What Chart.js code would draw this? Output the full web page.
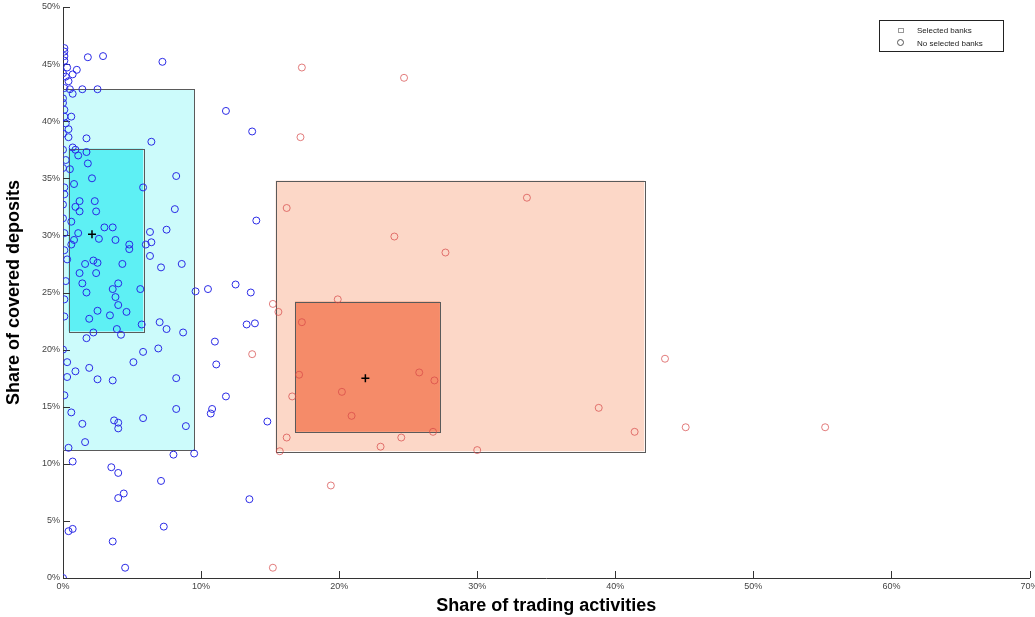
<!DOCTYPE html>
<html lang="en">
  <head>
    <meta charset="UTF-8" />
    <title>Trading activities vs covered deposits</title>
    <script src="https://cdn.jsdelivr.net/npm/chart.js@4"></script>
    <style>
      body { margin: 0; background: #fff; }
      #wrap { width: 1035px; height: 617px; position: relative; }
    </style>
  </head>
  <body>
    <div id="wrap"><canvas id="bankChart"></canvas></div>

    <script>
      // tick labels
      const xTicks = [0, 10, 20, 30, 40, 50, 60, 70];
      const yTicks = [0, 5, 10, 15, 20, 25, 30, 35, 40, 45, 50];

      // boxes: [xFrom, xTo, yFrom, yTo] in %
      const blueOuter = [0, 9.5, 11.2, 42.8];
      const blueInner = [0.4, 5.8, 21.6, 37.6];
      const redOuter = [15.4, 42.1, 11.1, 34.8];
      const redInner = [16.8, 27.3, 12.8, 24.2];
      const centroids = [[2.1, 30.1], [21.9, 17.5]];

      // Selected banks (red)
      const selectedBanks = [
        [17.3, 44.7], [24.7, 43.8], [17.2, 38.6], [16.2, 32.4], [24.0, 29.9],
        [33.6, 33.3], [27.7, 28.5], [15.2, 24.0], [15.6, 23.3], [19.9, 24.4],
        [17.3, 22.4], [13.7, 19.6], [17.1, 17.8], [16.6, 15.9], [16.2, 12.3],
        [15.7, 11.1], [20.2, 16.3], [20.9, 14.2], [25.8, 18.0], [26.9, 17.3],
        [26.8, 12.8], [24.5, 12.3], [23.0, 11.5], [30.0, 11.2], [19.4, 8.1],
        [15.2, 0.9], [38.8, 14.9], [41.4, 12.8], [43.6, 19.2], [45.1, 13.2],
        [55.2, 13.2]
      ];

      // No selected banks (blue)
      const otherBanks = [
        [0.1, 46.4], [0.1, 46.1], [0.1, 45.7], [0.3, 44.7], [0.4, 43.5], [0.1, 42.9],
        [0.5, 42.8], [0.0, 42.0], [0.0, 41.6], [0.1, 40.4], [0.6, 40.4], [0.2, 39.8],
        [0.4, 39.3], [0.4, 38.6], [0.0, 37.5], [0.0, 35.9], [0.5, 35.8], [0.1, 34.2],
        [0.0, 32.7], [0.1, 30.2], [0.1, 28.7], [0.3, 27.9], [0.1, 22.9], [0.3, 18.9],
        [0.3, 17.6], [0.6, 14.5], [0.4, 11.4], [0.7, 10.2], [0.4, 4.1], [0.7, 4.3],
        [0.0, 0.0], [0.1, 45.3], [0.0, 44.2], [0.2, 43.9], [0.1, 41.0], [0.0, 38.9],
        [0.2, 36.6], [0.1, 33.6], [0.0, 31.5], [0.2, 26.0], [0.1, 24.4], [0.0, 20.0],
        [0.1, 16.0],
        [1.8, 45.6], [2.9, 45.7], [7.2, 45.2], [1.0, 44.5], [0.7, 44.1], [1.4, 42.8],
        [2.5, 42.8], [0.7, 42.4], [1.7, 38.5], [6.4, 38.2], [0.7, 37.7], [0.9, 37.5],
        [1.7, 37.3], [1.1, 37.0], [1.8, 36.3], [8.2, 35.2], [2.1, 35.0], [0.8, 34.5],
        [5.8, 34.2], [1.2, 33.0], [2.3, 33.0], [0.9, 32.5], [1.2, 32.1], [2.4, 32.1],
        [8.1, 32.3], [0.6, 31.2], [1.1, 30.2], [3.0, 30.7], [3.6, 30.7], [6.3, 30.3],
        [7.5, 30.5], [0.8, 29.6], [0.6, 29.2], [2.6, 29.7], [3.8, 29.6], [4.8, 29.2],
        [4.8, 28.8], [6.0, 29.2], [6.4, 29.4], [2.2, 27.8], [2.5, 27.6], [1.6, 27.5],
        [6.3, 28.2], [4.3, 27.5], [7.1, 27.2], [8.6, 27.5], [1.2, 26.7], [2.4, 26.7],
        [1.4, 25.8], [4.0, 25.8], [9.6, 25.1], [3.6, 25.3], [1.7, 25.0], [5.6, 25.3],
        [3.8, 24.6], [4.0, 23.9], [2.5, 23.4], [4.6, 23.3], [3.4, 23.0], [1.9, 22.7],
        [7.0, 22.4], [7.5, 21.8], [5.7, 22.2], [3.9, 21.8], [4.2, 21.3], [2.2, 21.5],
        [1.7, 21.0], [8.7, 21.5], [5.8, 19.8], [6.9, 20.1], [5.1, 18.9], [0.9, 18.1],
        [1.9, 18.4], [8.2, 17.5], [2.5, 17.4], [3.6, 17.3], [1.4, 13.5], [3.7, 13.8],
        [4.0, 13.6], [4.0, 13.1], [5.8, 14.0], [8.2, 14.8], [8.9, 13.3], [1.6, 11.9],
        [8.0, 10.8], [9.5, 10.9], [3.5, 9.7], [4.0, 9.2], [7.1, 8.5], [4.0, 7.0],
        [4.4, 7.4], [7.3, 4.5], [3.6, 3.2], [4.5, 0.9],
        [11.8, 40.9], [10.5, 25.3], [12.5, 25.7], [13.6, 25.0], [13.3, 22.2],
        [13.9, 22.3], [11.0, 20.7], [11.1, 18.7], [11.8, 15.9], [10.7, 14.4],
        [10.8, 14.8], [14.8, 13.7], [13.5, 6.9], [13.7, 39.1], [14.0, 31.3]
      ];

      const toXY = (arr) => arr.map((p) => ({ x: p[0], y: p[1] }));

      // shaded boxes drawn under the points
      const boxPlugin = {
        id: "boxes",
        beforeDatasetsDraw(chart) {
          const { ctx, scales } = chart;
          const boxes = [
            [blueOuter, "#ccfbfb"],
            [blueInner, "#5ef0f4"],
            [redOuter, "#fcd7c7"],
            [redInner, "#f58b69"],
          ];
          ctx.save();
          boxes.forEach(([b, col]) => {
            const x0 = scales.x.getPixelForValue(b[0]);
            const x1 = scales.x.getPixelForValue(b[1]);
            const y0 = scales.y.getPixelForValue(b[3]);
            const y1 = scales.y.getPixelForValue(b[2]);
            ctx.fillStyle = col;
            ctx.fillRect(x0, y0, x1 - x0, y1 - y0);
            ctx.strokeStyle = "#5a5a5a";
            ctx.lineWidth = 1;
            ctx.strokeRect(Math.round(x0) + 0.5, Math.round(y0) + 0.5, Math.round(x1 - x0), Math.round(y1 - y0));
          });
          // inward tick marks
          ctx.strokeStyle = "#333";
          const xs = scales.x, ys = scales.y;
          xTicks.forEach((v) => {
            const px = Math.round(xs.getPixelForValue(v)) + 0.5;
            ctx.beginPath();
            ctx.moveTo(px, xs.top);
            ctx.lineTo(px, xs.top - 7);
            ctx.stroke();
          });
          yTicks.forEach((v) => {
            const py = Math.round(ys.getPixelForValue(v)) + 0.5;
            ctx.beginPath();
            ctx.moveTo(ys.right, py);
            ctx.lineTo(ys.right + 7, py);
            ctx.stroke();
          });
          ctx.restore();
        },
        afterDraw(chart) {
          // legend box, top right
          const { ctx } = chart;
          ctx.save();
          ctx.fillStyle = "#fff";
          ctx.fillRect(879, 20, 124, 31);
          ctx.strokeStyle = "#222";
          ctx.lineWidth = 1;
          ctx.strokeRect(879.5, 20.5, 124, 31);
          ctx.font = "8px 'Liberation Sans', Arial, sans-serif";
          ctx.fillStyle = "#222";
          ctx.textBaseline = "middle";
          ctx.fillText("Selected banks", 917, 31);
          ctx.fillText("No selected banks", 917, 44);
          ctx.strokeStyle = "#999";
          ctx.strokeRect(898.5, 28.5, 5, 4);
          ctx.strokeStyle = "#555";
          ctx.beginPath();
          ctx.arc(900.5, 42.5, 3, 0, Math.PI * 2);
          ctx.stroke();
          ctx.restore();
        },
      };

      const tickFont = { family: "'Liberation Sans', Arial, sans-serif", size: 9 };
      const titleFont = { family: "'Liberation Sans', Arial, sans-serif", size: 18, weight: "bold" };

      new Chart(document.getElementById("bankChart"), {
        type: "scatter",
        data: {
          datasets: [
            {
              label: "Selected banks",
              data: toXY(selectedBanks),
              pointStyle: "circle",
              pointRadius: 3.5,
              borderWidth: 1,
              borderColor: "rgba(214,70,70,0.7)",
              backgroundColor: "rgba(0,0,0,0)",
            },
            {
              label: "No selected banks",
              data: toXY(otherBanks),
              pointStyle: "circle",
              pointRadius: 3.5,
              borderWidth: 1,
              borderColor: "#2a2ae6",
              backgroundColor: "rgba(0,0,0,0)",
            },
            {
              label: "Mean",
              data: toXY(centroids),
              pointStyle: "cross",
              pointRadius: 4,
              borderWidth: 1.5,
              borderColor: "#000",
            },
          ],
        },
        options: {
          responsive: true,
          maintainAspectRatio: false,
          animation: false,
          layout: { padding: { top: 7, right: 3, left: 0, bottom: 0 } },
          plugins: { legend: { display: false }, tooltip: { enabled: false } },
          scales: {
            x: {
              type: "linear",
              min: 0,
              max: 70,
              afterBuildTicks: (s) => { s.ticks = xTicks.map((v) => ({ value: v })); },
              afterFit: (s) => { s.height = 39; s.paddingLeft = 0; s.paddingRight = 0; },
              ticks: { callback: (v) => v + "%", font: tickFont, color: "#444", padding: 3, maxRotation: 0 },
              grid: { drawOnChartArea: false, drawTicks: false },
              border: { color: "#333" },
              title: { display: true, text: "Share of trading activities", font: titleFont, color: "#000", padding: { top: 0, bottom: 0 } },
            },
            y: {
              type: "linear",
              min: 0,
              max: 50,
              afterBuildTicks: (s) => { s.ticks = yTicks.map((v) => ({ value: v })); },
              afterFit: (s) => { s.width = 63; s.paddingTop = 0; s.paddingBottom = 0; },
              ticks: { callback: (v) => v + "%", font: tickFont, color: "#444", padding: 3 },
              grid: { drawOnChartArea: false, drawTicks: false },
              border: { color: "#333" },
              title: { display: true, text: "Share of covered deposits", font: titleFont, color: "#000", padding: { top: 3, bottom: 0 } },
            },
          },
        },
        plugins: [boxPlugin],
      });
    </script>
  </body>
</html>
